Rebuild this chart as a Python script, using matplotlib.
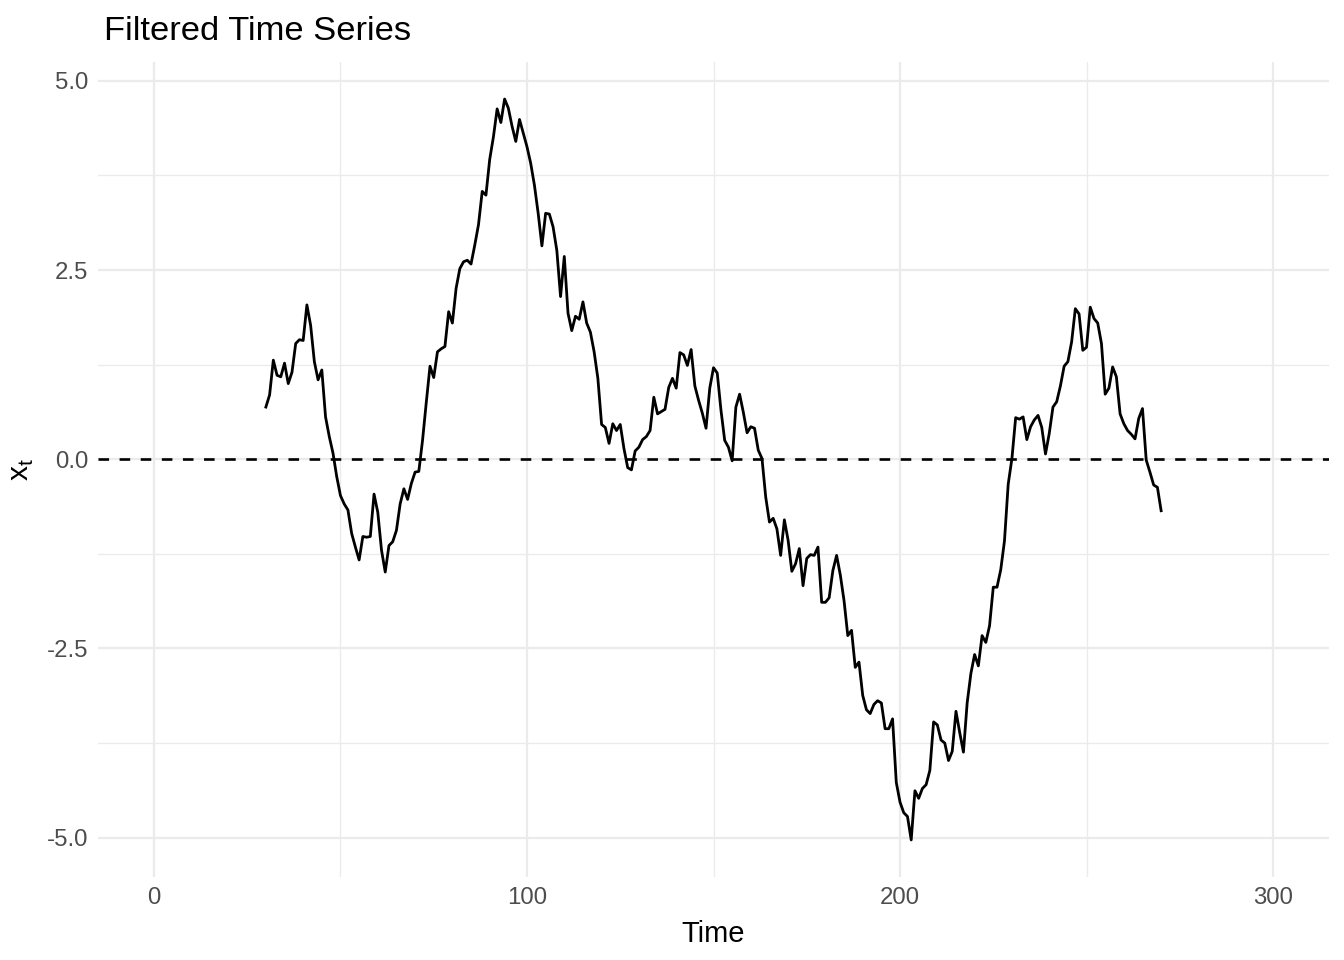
import numpy as np
import matplotlib
matplotlib.use("Agg")
from matplotlib import pyplot as plt

# filtered series (time 30..270)
time = list(range(30, 271))
xt = [
    0.69, 0.85, 1.31, 1.11, 1.09, 1.27, 1.00, 1.15, 1.53, 1.58,   # 30-39
    1.57, 2.04, 1.77, 1.29, 1.05, 1.18, 0.56, 0.30, 0.08, -0.23,  # 40-49
    -0.48, -0.59, -0.67, -0.98, -1.16, -1.33, -1.02, -1.03, -1.02, -0.46,  # 50-59
    -0.70, -1.20, -1.49, -1.14, -1.09, -0.94, -0.59, -0.39, -0.53, -0.32,  # 60-69
    -0.17, -0.16, 0.25, 0.75, 1.23, 1.08, 1.42, 1.46, 1.49, 1.95,  # 70-79
    1.80, 2.26, 2.52, 2.61, 2.63, 2.58, 2.83, 3.10, 3.54, 3.49,   # 80-89
    3.96, 4.26, 4.63, 4.45, 4.76, 4.64, 4.40, 4.20, 4.49, 4.31,   # 90-99
    4.13, 3.91, 3.62, 3.25, 2.82, 3.25, 3.24, 3.07, 2.76, 2.15,   # 100-109
    2.68, 1.93, 1.70, 1.89, 1.85, 2.08, 1.80, 1.68, 1.42, 1.07,   # 110-119
    0.46, 0.42, 0.21, 0.47, 0.38, 0.46, 0.14, -0.11, -0.14, 0.11,  # 120-129
    0.16, 0.26, 0.30, 0.38, 0.82, 0.60, 0.63, 0.66, 0.95, 1.07,   # 130-139
    0.94, 1.41, 1.38, 1.24, 1.45, 0.97, 0.78, 0.61, 0.41, 0.94,   # 140-149
    1.21, 1.14, 0.65, 0.25, 0.16, -0.02, 0.69, 0.86, 0.62, 0.35,  # 150-159
    0.43, 0.41, 0.12, 0.01, -0.50, -0.83, -0.78, -0.92, -1.27, -0.80,  # 160-169
    -1.07, -1.48, -1.38, -1.18, -1.67, -1.31, -1.26, -1.27, -1.16, -1.89,  # 170-179
    -1.89, -1.83, -1.47, -1.27, -1.53, -1.87, -2.33, -2.26, -2.75, -2.68,  # 180-189
    -3.12, -3.31, -3.36, -3.24, -3.19, -3.22, -3.56, -3.56, -3.43, -4.27,  # 190-199
    -4.53, -4.67, -4.72, -5.03, -4.38, -4.48, -4.35, -4.30, -4.11, -3.47,  # 200-209
    -3.51, -3.71, -3.75, -3.98, -3.86, -3.33, -3.61, -3.87, -3.22, -2.83,  # 210-219
    -2.58, -2.73, -2.33, -2.42, -2.20, -1.69, -1.69, -1.46, -1.08, -0.33,  # 220-229
    0.01, 0.55, 0.53, 0.56, 0.26, 0.43, 0.52, 0.58, 0.42, 0.07,   # 230-239
    0.34, 0.69, 0.76, 0.97, 1.23, 1.29, 1.55, 1.99, 1.92, 1.44,   # 240-249
    1.48, 2.01, 1.86, 1.80, 1.53, 0.86, 0.94, 1.22, 1.09, 0.60,   # 250-259
    0.47, 0.38, 0.33, 0.27, 0.54, 0.67, -0.01, -0.17, -0.34, -0.37,  # 260-269
    -0.68,                                                        # 270
]

xticks = [0, 100, 200, 300]
xminor = [50, 150, 250]
yticks = [-5.0, -2.5, 0.0, 2.5, 5.0]
yminor = [-3.75, -1.25, 1.25, 3.75]
ytick_labels = ["-5.0", "-2.5", "0.0", "2.5", "5.0"]

plt.rcParams['font.family'] = ['Liberation Sans', 'DejaVu Sans']
plt.rcParams['mathtext.fontset'] = 'custom'
plt.rcParams['mathtext.rm'] = 'Liberation Sans'

grid_col = '#EBEBEB'
text_col = '#4D4D4D'

fig = plt.figure(figsize=(13.44, 9.6), dpi=100)
ax = fig.add_axes([98/1344, 1 - 877/960, (1329 - 98)/1344, (877 - 62)/960])

# ggplot-like 5% expansion
x_lo, x_hi = 0, 300
y_lo, y_hi = min(xt), max(xt)
ax.set_xlim(x_lo - 0.05*(x_hi - x_lo), x_hi + 0.05*(x_hi - x_lo))
ax.set_ylim(y_lo - 0.05*(y_hi - y_lo), y_hi + 0.05*(y_hi - y_lo))

for v in xminor:
    ax.axvline(v, color=grid_col, lw=0.95, zorder=0)
for v in yminor:
    ax.axhline(v, color=grid_col, lw=0.95, zorder=0)
for v in xticks:
    ax.axvline(v, color=grid_col, lw=1.6, zorder=0)
for v in yticks:
    ax.axhline(v, color=grid_col, lw=1.6, zorder=0)

ax.axhline(0, color='black', lw=1.9, ls=(0, (4, 4)), zorder=2)
ax.plot(time, xt, color='black', lw=2.0, zorder=3)

ax.set_xticks(xticks)
ax.set_xticklabels([str(v) for v in xticks])
ax.set_yticks(yticks)
ax.set_yticklabels(ytick_labels)
ax.tick_params(length=0, pad=7, labelsize=17.3, labelcolor=text_col)
for s in ax.spines.values():
    s.set_visible(False)

ax.set_xlabel('Time', fontsize=21, labelpad=8)
ax.set_ylabel(r'$\mathrm{x}_{\mathrm{t}}$', fontsize=21.5, labelpad=8)
fig.text(104/1344, 1 - 40/960, 'Filtered Time Series', fontsize=24.8, ha='left', va='baseline')

fig.savefig('out.png', dpi=100)
